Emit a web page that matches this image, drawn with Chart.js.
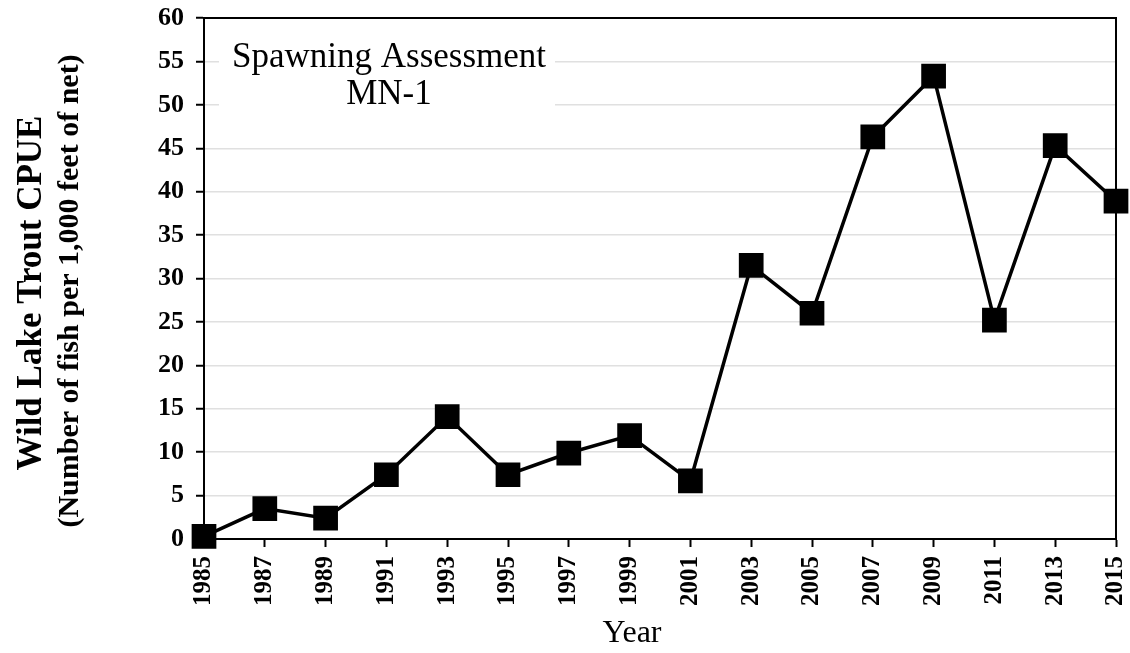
<!DOCTYPE html>
<html>
<head>
<meta charset="utf-8">
<script src="https://cdn.jsdelivr.net/npm/chart.js@4/dist/chart.umd.min.js"></script>
<style>
  html, body { margin: 0; padding: 0; background: #fff; }
  #wrap { width: 1130px; height: 653px; }
</style>
</head>
<body>
<div id="wrap"><canvas id="chart"></canvas></div>
<script>
// data
const years = ['1985', '1987', '1989', '1991', '1993', '1995', '1997', '1999',
               '2001', '2003', '2005', '2007', '2009', '2011', '2013', '2015'];
const cpue = [0.3, 3.5, 2.4, 7.4, 14.1, 7.4, 9.9, 11.9,
              6.7, 31.5, 26.0, 46.3, 53.3, 25.2, 45.3, 38.9];
const yTitle = ['Wild Lake Trout CPUE', '(Number of fish per 1,000 feet of net)'];
const xTitle = 'Year';
const noteLines = ['Spawning Assessment', 'MN-1'];

const serif = "'Liberation Serif', 'Times New Roman', serif";

// axis titles, white label box and frame on top/right of plot
const extras = {
  id: 'extras',
  beforeDatasetsDraw(chart) {
    const { ctx, chartArea: a } = chart;
    ctx.save();
    ctx.fillStyle = '#fff';
    ctx.fillRect(a.left + 15, a.top + 14, 336, 88);
    ctx.fillStyle = '#000';
    ctx.font = '35px ' + serif;
    ctx.textAlign = 'center';
    ctx.textBaseline = 'middle';
    ctx.fillText(noteLines[0], a.left + 185, a.top + 40);
    ctx.fillText(noteLines[1], a.left + 185, a.top + 77);

    ctx.strokeStyle = '#000';
    ctx.lineWidth = 2;
    ctx.beginPath();
    ctx.moveTo(a.left, a.top);
    ctx.lineTo(a.right, a.top);
    ctx.lineTo(a.right, a.bottom);
    ctx.stroke();

    // y title, two lines of different size
    ctx.save();
    ctx.translate(32, 293);
    ctx.rotate(-Math.PI / 2);
    ctx.font = 'bold 35px ' + serif;
    ctx.fillText(yTitle[0], 0, 0);
    ctx.restore();
    ctx.save();
    ctx.translate(70, 291);
    ctx.rotate(-Math.PI / 2);
    ctx.font = 'bold 30px ' + serif;
    ctx.fillText(yTitle[1], 0, 0);
    ctx.restore();

    // x title
    ctx.font = '32px ' + serif;
    ctx.fillText(xTitle, 632, 634);
    ctx.restore();
  }
};

new Chart(document.getElementById('chart'), {
  type: 'line',
  data: {
    labels: years,
    datasets: [{
      data: cpue,
      borderColor: '#000',
      backgroundColor: '#000',
      borderWidth: 3.5,
      pointStyle: 'rect',
      pointRadius: 15,
      pointHoverRadius: 15,
      tension: 0,
      clip: false
    }]
  },
  options: {
    responsive: true,
    maintainAspectRatio: false,
    animation: false,
    layout: { autoPadding: false, padding: { left: 146, right: 14, top: 18, bottom: 38 } },
    plugins: { legend: { display: false }, tooltip: { enabled: false } },
    scales: {
      x: {
        offset: false,
        afterFit(scale) { scale.paddingRight = 0; scale.paddingLeft = 0; },
        grid: { drawOnChartArea: false, tickLength: 8, tickColor: '#000', tickWidth: 2 },
        border: { color: '#000', width: 2 },
        ticks: {
          color: '#000', minRotation: 90, maxRotation: 90, padding: 9, autoSkip: false,
          font: { family: serif, size: 25, weight: 'bold' }
        }
      },
      y: {
        min: 0, max: 60,
        afterFit(scale) { scale.paddingTop = 0; scale.paddingBottom = 0; },
        grid: { color: '#e0e0e0', lineWidth: 1.5, tickLength: 8, tickColor: '#000', tickWidth: 2 },
        border: { color: '#000', width: 2 },
        ticks: {
          stepSize: 5, color: '#000', padding: 12,
          font: { family: serif, size: 26, weight: 'bold' }
        }
      }
    }
  },
  plugins: [extras]
});
</script>
</body>
</html>
